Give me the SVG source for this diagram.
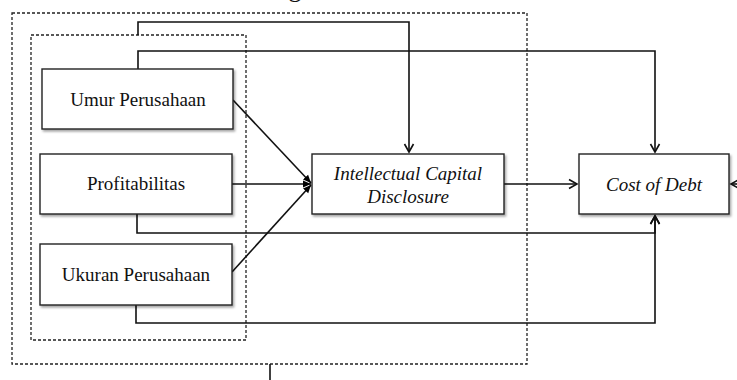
<svg xmlns="http://www.w3.org/2000/svg" width="737" height="380" viewBox="0 0 737 380">
<style>
.box{fill:#fff;stroke:#222;stroke-width:1.4;filter:url(#sh)}
.dash{fill:none;stroke:#222;stroke-width:1.3;stroke-dasharray:3,2}
.ln{fill:none;stroke:#111;stroke-width:1.6}
.t{font-family:"Liberation Serif",serif;font-size:19px;fill:#111;text-anchor:middle}
.i{font-style:italic}
</style>
<defs>
<filter id="sh" x="-5%" y="-5%" width="115%" height="125%"><feDropShadow dx="1.5" dy="2" stdDeviation="1.2" flood-color="#000" flood-opacity="0.35"/></filter>
<marker id="open" markerWidth="12" markerHeight="12" refX="10" refY="6" orient="auto" markerUnits="userSpaceOnUse"><path d="M2,1.5 L10,6 L2,10.5" fill="none" stroke="#111" stroke-width="1.6"/></marker>
<marker id="fill" markerWidth="10" markerHeight="10" refX="8" refY="5" orient="auto" markerUnits="userSpaceOnUse"><path d="M0,1.5 L8,5 L0,8.5 Z" fill="#000"/></marker>
</defs>
<text class="t" x="295" y="-3" style="font-size:26px">g</text>
<g id="groups">
<rect class="dash" x="12" y="13" width="515" height="351"/>
<rect class="dash" x="31" y="35" width="215" height="305"/>
</g>
<g id="connectors">
<path class="ln" d="M138,35 V22 H409 V152" marker-end="url(#open)"/>
<path class="ln" d="M138,69 V51 H655 V152" marker-end="url(#open)"/>
<path class="ln" d="M137,214 V233 H655 V216" marker-end="url(#open)"/>
<path class="ln" d="M136,305 V323 H655 V216" marker-end="url(#open)"/>
<path class="ln" d="M504,184 H577" marker-end="url(#open)"/>
<path class="ln" d="M737,184 H731" marker-end="url(#open)"/>
<path class="ln" d="M233,100 L311,183" marker-end="url(#fill)"/>
<path class="ln" d="M232,184 L311,184" marker-end="url(#fill)"/>
<path class="ln" d="M232,272 L311,185" marker-end="url(#fill)"/>
<path class="ln" d="M270,364 V380"/>
</g>
<g id="umur"><rect class="box" x="42" y="69" width="191" height="60"/><text class="t" x="138" y="106">Umur Perusahaan</text></g>
<g id="profit"><rect class="box" x="40" y="154" width="192" height="60"/><text class="t" x="136" y="190">Profitabilitas</text></g>
<g id="ukuran"><rect class="box" x="40" y="244" width="192" height="61"/><text class="t" x="136" y="281">Ukuran Perusahaan</text></g>
<g id="icd"><rect class="box" x="312" y="154" width="192" height="60"/><text class="t i" x="408" y="180">Intellectual Capital</text><text class="t i" x="408" y="203">Disclosure</text></g>
<g id="cod"><rect class="box" x="579" y="154" width="150" height="60"/><text class="t i" x="654" y="191">Cost of Debt</text></g>
</svg>
